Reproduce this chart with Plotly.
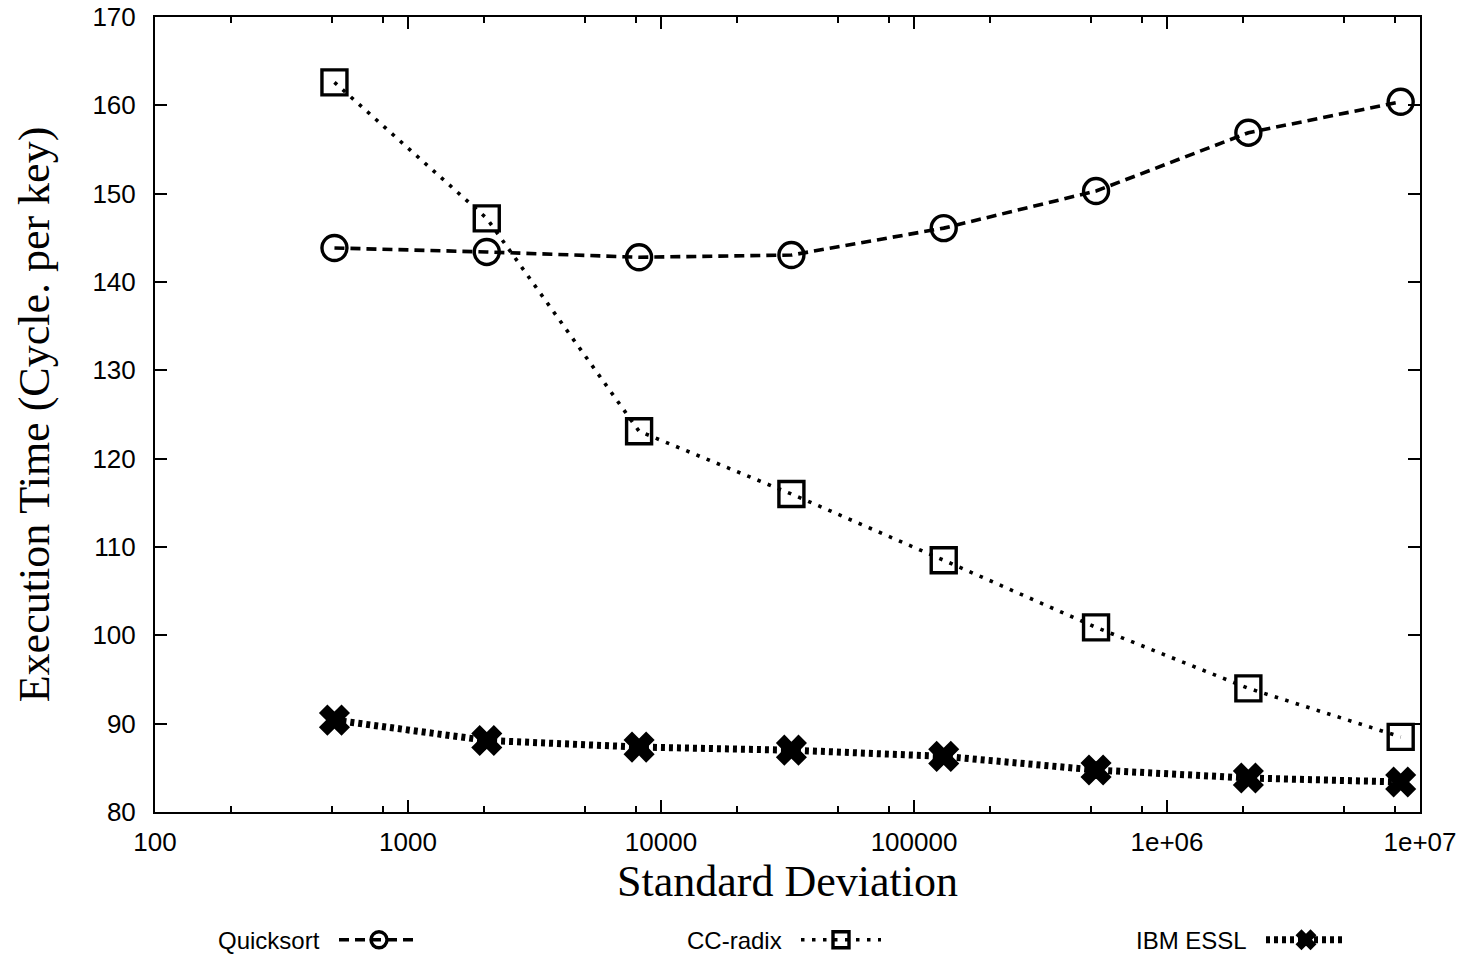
import plotly.graph_objects as go

std_dev = [512, 2048, 8192, 32768, 131072, 524288, 2097152, 8388608]
quicksort = [143.85, 143.4, 142.8, 143.05, 146.1, 150.3, 156.9, 160.4]
cc_radix = [162.6, 147.2, 123.1, 116.0, 108.5, 100.9, 94.0, 88.5]
ibm_essl = [90.4, 88.1, 87.35, 87.0, 86.3, 84.75, 83.85, 83.4]

series_names = ["Quicksort", "CC-radix", "IBM ESSL"]
x_tickvals = [100, 1000, 10000, 100000, 1000000, 10000000]
x_ticktext = ["100", "1000", "10000", "100000", "1e+06", "1e+07"]
x_minor = [m * 10 ** e for e in range(2, 7) for m in (2, 5, 8)]

W, H = 1472, 960
L, R, T, B = 155, 52, 17, 148
pw = W - L - R
ph = H - T - B

fig = go.Figure()
fig.add_trace(go.Scatter(
    x=std_dev, y=quicksort, mode="lines+markers", name="", legend="legend",
    line=dict(color="black", width=3.6, dash="10px,6px"),
    marker=dict(symbol="circle-open", size=25, color="black", line=dict(width=3.4)),
))
fig.add_trace(go.Scatter(
    x=std_dev, y=cc_radix, mode="lines+markers", name="", legend="legend2",
    line=dict(color="black", width=3.6, dash="3.5px,7.5px"),
    marker=dict(symbol="square-open", size=25, color="black", line=dict(width=3.4)),
))
fig.add_trace(go.Scatter(
    x=std_dev, y=ibm_essl, mode="lines+markers", name="", legend="legend3",
    line=dict(color="black", width=7, dash="4px,4px"),
    marker=dict(symbol="x", size=25, color="black", line=dict(width=2, color="black")),
))

annotations = []
text_right = [322, 784, 1249]
for name, xr in zip(series_names, text_right):
    annotations.append(dict(
        x=(xr - L) / pw, y=(812 - 940) / ph, xref="paper", yref="paper",
        text=name, showarrow=False, xanchor="right", yanchor="middle",
        font=dict(family="Liberation Sans", size=24, color="black"),
    ))

def leg(px):
    return dict(
        orientation="h", x=(px - L) / pw, y=(812 - 940) / ph, xanchor="left", yanchor="middle",
        itemwidth=80, bgcolor="rgba(0,0,0,0)", font=dict(size=22),
    )

fig.update_layout(
    width=W, height=H,
    margin=dict(l=L, r=R, t=T, b=B, autoexpand=False),
    plot_bgcolor="white", paper_bgcolor="white",
    showlegend=True,
    legend=leg(334), legend2=leg(796), legend3=leg(1261),
    annotations=annotations,
    xaxis=dict(
        type="log", range=[2, 7],
        tickvals=x_tickvals, ticktext=x_ticktext,
        ticks="inside", ticklen=12, tickwidth=2, tickcolor="black",
        minor=dict(tickvals=x_minor, ticks="inside", ticklen=6, tickwidth=2, tickcolor="black"),
        showline=True, linewidth=2, linecolor="black", mirror="ticks",
        showgrid=False, zeroline=False, ticklabelstandoff=6,
        tickfont=dict(family="Liberation Sans", size=26, color="black"),
        title=dict(text="Standard Deviation", standoff=8,
                   font=dict(family="Liberation Serif", size=44, color="black")),
    ),
    yaxis=dict(
        range=[80, 170], dtick=10, tick0=80,
        ticks="inside", ticklen=12, tickwidth=2, tickcolor="black",
        showline=True, linewidth=2, linecolor="black", mirror="ticks",
        showgrid=False, zeroline=False, ticklabelstandoff=12,
        tickfont=dict(family="Liberation Sans", size=26, color="black"),
        title=dict(text="Execution Time (Cycle. per key)", standoff=29,
                   font=dict(family="Liberation Serif", size=44, color="black")),
    ),
)

fig.write_html("out.html")
